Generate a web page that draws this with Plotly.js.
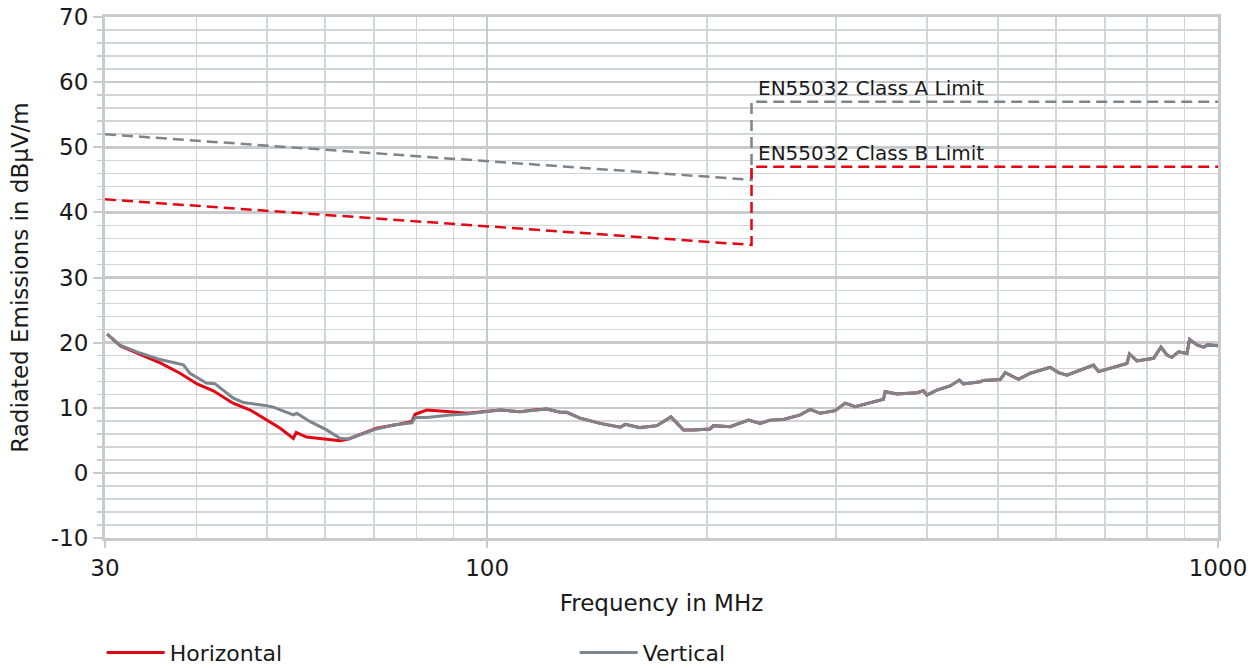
<!DOCTYPE html>
<html>
<head>
<meta charset="utf-8">
<script src="https://cdn.plot.ly/plotly-3.0.1.min.js"></script>
<style>html,body{margin:0;padding:0;background:#fff;}#chart{width:1257px;height:668px;}</style>
</head>
<body>
<div id="chart"></div>
<script>
// Horizontal polarisation (MHz, dBµV/m)
const freqH = [30.2, 31.5, 33.5, 35.7, 38.0, 40.1, 42.2, 44.9, 47.4, 49.9, 52.1, 54.3, 54.8, 56.6, 60.3, 62.9, 64.6, 70.6, 76.0, 78.9, 79.7, 82.7, 89.0, 93.8, 104.2, 110.9,
  115.7, 120.7, 125.9, 128.5, 134.0, 142.7, 152.1, 154.5, 161.9, 170.7, 178.4, 185.6, 191.6, 201.9, 204.0, 215.0, 227.8, 236.4, 243.9, 254.4, 268.1, 276.7, 285.5, 299.3, 308.9, 318.8, 348.6, 350.4, 363.6, 387.3, 395.4, 399.6, 412.4, 430.0, 442.8, 448.4, 472.9, 477.6, 503.7, 511.6, 533.4, 553.5, 589.5, 605.1, 621.3, 641.2, 654.7, 675.6, 686.3, 712.1, 750.6, 756.7, 774.5, 816.3, 835.5, 851.5, 864.9, 883.1, 906.9, 914.3, 935.8, 955.5, 967.7, 1000];
const dbH = [21.3, 19.5, 18.2, 16.9, 15.3, 13.65, 12.6, 10.7, 9.65, 8.1, 6.85, 5.3, 6.2, 5.5, 5.2, 4.95, 5.2, 6.85, 7.5, 7.9, 9.0, 9.65, 9.4, 9.15, 9.65, 9.4,
  9.65, 9.8, 9.3, 9.3, 8.4, 7.6, 7.0, 7.45, 6.95, 7.25, 8.6, 6.6, 6.6, 6.75, 7.25, 7.1, 8.1, 7.6, 8.1, 8.2, 8.9, 9.75, 9.15, 9.55, 10.7, 10.15, 11.3, 12.5, 12.1, 12.3, 12.6, 11.95, 12.7, 13.35, 14.25, 13.65, 14.0, 14.2, 14.35, 15.4, 14.35, 15.3, 16.2, 15.4, 15.0, 15.55, 15.9, 16.55, 15.55, 16.05, 16.8, 18.25, 17.2, 17.6, 19.3, 18.1, 17.75, 18.6, 18.35, 20.5, 19.65, 19.3, 19.65, 19.5];

// Vertical polarisation (MHz, dBµV/m)
const freqV = [30.2, 31.45, 33.5, 35.7, 38.4, 39.2, 41.3, 42.4, 44.9, 46.4, 49.4, 51.0, 54.3, 54.9, 57.2, 60.3, 62.9, 64.6, 69.9, 74.4, 78.9, 79.7, 82.7, 89.0, 93.8, 104.2, 110.9,
  115.7, 120.7, 125.9, 128.5, 134.0, 142.7, 152.1, 154.5, 161.9, 170.7, 178.4, 185.6, 191.6, 201.9, 204.0, 215.0, 227.8, 236.4, 243.9, 254.4, 268.1, 276.7, 285.5, 299.3, 308.9, 318.8, 348.6, 350.4, 363.6, 387.3, 395.4, 399.6, 412.4, 430.0, 442.8, 448.4, 472.9, 477.6, 503.7, 511.6, 533.4, 553.5, 589.5, 605.1, 621.3, 641.2, 654.7, 675.6, 686.3, 712.1, 750.6, 756.7, 774.5, 816.3, 835.5, 851.5, 864.9, 883.1, 906.9, 914.3, 935.8, 955.5, 967.7, 1000];
const dbV = [21.3, 19.6, 18.4, 17.4, 16.6, 15.3, 13.8, 13.7, 11.5, 10.8, 10.4, 10.1, 8.9, 9.15, 7.9, 6.6, 5.3, 5.2, 6.6, 7.35, 7.7, 8.5, 8.5, 8.9, 9.04, 9.65, 9.4,
  9.65, 9.8, 9.3, 9.3, 8.4, 7.6, 7.0, 7.45, 6.95, 7.25, 8.6, 6.6, 6.6, 6.75, 7.25, 7.1, 8.1, 7.6, 8.1, 8.2, 8.9, 9.75, 9.15, 9.55, 10.7, 10.15, 11.3, 12.45, 12.1, 12.3, 12.6, 11.95, 12.7, 13.35, 14.25, 13.65, 14.0, 14.2, 14.35, 15.4, 14.35, 15.3, 16.2, 15.4, 15.0, 15.55, 15.9, 16.55, 15.55, 16.05, 16.8, 18.25, 17.2, 17.6, 19.3, 18.1, 17.75, 18.6, 18.35, 20.5, 19.65, 19.3, 19.65, 19.5];

// EN55032 limits
const limitFreq = [30, 230, 230, 1000];
const limitA = [52, 45, 57, 57];
const limitB = [42, 35, 47, 47];

const xTickVals = [30, 100, 1000];
const xTickText = ['30', '100', '1000'];
const xMinorVals = [40, 50, 60, 70, 80, 90, 200, 300, 400, 500, 600, 700, 800, 900];
const yTickVals = [-10, 0, 10, 20, 30, 40, 50, 60, 70];
const yTickText = ['-10', '0', '10', '20', '30', '40', '50', '60', '70'];
const labelA = 'EN55032 Class A Limit';
const labelB = 'EN55032 Class B Limit';

const RED = '#e30613';
const GRAY = '#7d858c';
const GRID = '#c8cbce';
const GRIDMINOR = '#d3d6d8';
const FONT = 'DejaVu Sans';

const traces = [
  {x: limitFreq, y: limitA, mode: 'lines', line: {color: GRAY, width: 2.5, dash: '11px,6px'}, showlegend: false, hoverinfo: 'skip'},
  {x: limitFreq, y: limitB, mode: 'lines', line: {color: RED, width: 2.5, dash: '11px,6px'}, showlegend: false, hoverinfo: 'skip'},
  {x: freqH, y: dbH, name: 'Horizontal', mode: 'lines', line: {color: RED, width: 3}},
  {x: freqV, y: dbV, name: 'Vertical', mode: 'lines', line: {color: GRAY, width: 3}}
];

const layout = {
  width: 1257, height: 668,
  margin: {l: 105, r: 39, t: 17, b: 130, autoexpand: false},
  paper_bgcolor: '#fff', plot_bgcolor: '#fff',
  font: {family: FONT, color: '#1a1a1a'},
  xaxis: {
    type: 'log', range: [Math.log10(30), 3], automargin: false,
    tickmode: 'array', tickvals: xTickVals, ticktext: xTickText,
    tickfont: {size: 23}, ticks: 'outside', ticklen: 7, tickwidth: 2, tickcolor: GRID,
    showgrid: true, gridcolor: GRID, gridwidth: 2.5,
    minor: {tickmode: 'array', tickvals: xMinorVals, showgrid: true, gridcolor: GRIDMINOR, gridwidth: 1.5, ticks: ''},
    showline: true, linecolor: GRID, linewidth: 3, mirror: true, zeroline: false,
    title: {text: 'Frequency in MHz', font: {size: 23}, standoff: 16}
  },
  yaxis: {
    range: [-10, 70], automargin: false,
    tickmode: 'array', tickvals: yTickVals, ticktext: yTickText,
    tickfont: {size: 23}, ticks: 'outside', ticklen: 9, tickwidth: 2, tickcolor: GRID,
    showgrid: true, gridcolor: GRID, gridwidth: 2.5,
    minor: {dtick: 2, showgrid: true, gridcolor: GRIDMINOR, gridwidth: 1.5, ticks: 'outside', ticklen: 5, tickcolor: GRID, tickwidth: 1.5},
    showline: true, linecolor: GRID, linewidth: 3, mirror: true, zeroline: false,
    title: {text: 'Radiated Emissions in dBµV/m', font: {size: 23}, standoff: 16}
  },
  legend: {
    orientation: 'h', x: -0.003, xanchor: 'left', y: -0.18, yanchor: 'top',
    font: {size: 22}, entrywidth: 400, itemwidth: 58, bgcolor: 'rgba(0,0,0,0)'
  },
  annotations: [
    {x: Math.log10(230), y: 57, xref: 'x', yref: 'y', text: labelA, showarrow: false, xanchor: 'left', yanchor: 'bottom', xshift: 4, yshift: 0, font: {size: 20}},
    {x: Math.log10(230), y: 47, xref: 'x', yref: 'y', text: labelB, showarrow: false, xanchor: 'left', yanchor: 'bottom', xshift: 4, yshift: 0, font: {size: 20}}
  ]
};

Plotly.newPlot('chart', traces, layout, {staticPlot: true, displayModeBar: false});
</script>
</body>
</html>
